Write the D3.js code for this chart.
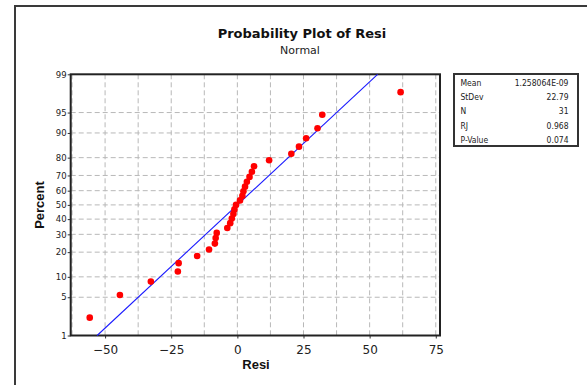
<!DOCTYPE html>
<html>
<head>
<meta charset="utf-8">
<script src="https://cdn.jsdelivr.net/npm/d3@7"></script>
<style>
html,body{margin:0;padding:0;background:#fff;}
svg{display:block;}
</style>
</head>
<body>
<svg id="chart" width="587" height="385"></svg>
<script>
// ---- data ----
const resi = [-55.8, -44.4, -32.7, -22.5, -22.2, -15.2, -10.7, -8.5, -8.2, -7.8,
  -3.8, -2.7, -2.1, -1.5, -1.1, -0.5, 1.0, 1.9, 2.3, 2.9,
  3.6, 4.6, 5.5, 6.3, 12.0, 20.4, 23.3, 26.0, 30.3, 32.1, 61.7];
const percentTicks = [1, 5, 10, 20, 30, 40, 50, 60, 70, 80, 90, 95, 99];
const xTicks = [-50, -25, 0, 25, 50, 75];
const xGrid = [-62.5, -50, -37.5, -25, -12.5, 0, 12.5, 25, 37.5, 50, 62.5, 75];
const statLabels = ["Mean", "StDev", "N", "RJ", "P-Value"];
const statValues = ["1.258064E-09", "22.79", "31", "0.968", "0.074"];
const fitMean = 1.258064e-9;
const fitSd = 22.79;

// inverse normal CDF (Acklam)
function probit(p) {
  const a = [-3.969683028665376e+01, 2.209460984245205e+02, -2.759285104469687e+02, 1.383577518672690e+02, -3.066479806614716e+01, 2.506628277459239e+00];
  const b = [-5.447609879822406e+01, 1.615858368580409e+02, -1.556989798598866e+02, 6.680131188771972e+01, -1.328068155288572e+01];
  const c = [-7.784894002430293e-03, -3.223964580411365e-01, -2.400758277161838e+00, -2.549671010229297e+00, 4.374664141464968e+00, 2.938163982698783e+00];
  const d = [7.784695709041462e-03, 3.224671290700398e-01, 2.445134137142996e+00, 3.754408661907416e+00];
  const pl = 0.02425, ph = 1 - pl;
  let q, r;
  if (p < pl) {
    q = Math.sqrt(-2 * Math.log(p));
    return (((((c[0]*q+c[1])*q+c[2])*q+c[3])*q+c[4])*q+c[5]) / ((((d[0]*q+d[1])*q+d[2])*q+d[3])*q+1);
  } else if (p <= ph) {
    q = p - 0.5; r = q * q;
    return (((((a[0]*r+a[1])*r+a[2])*r+a[3])*r+a[4])*r+a[5])*q / (((((b[0]*r+b[1])*r+b[2])*r+b[3])*r+b[4])*r+1);
  } else {
    q = Math.sqrt(-2 * Math.log(1 - p));
    return -(((((c[0]*q+c[1])*q+c[2])*q+c[3])*q+c[4])*q+c[5]) / ((((d[0]*q+d[1])*q+d[2])*q+d[3])*q+1);
  }
}

const svg = d3.select("#chart");
const L = 70.7, R = 440, T = 74.3, B = 335.5;

// page frame
svg.append("rect").attr("x", 15).attr("y", 6).attr("width", 600).attr("height", 400)
  .attr("fill", "none").attr("stroke", "#3a3a3a").attr("stroke-width", 2);

const x = d3.scaleLinear().domain([-63, 76.6]).range([L, R]);
const y = d3.scaleLinear().domain([probit(0.01), probit(0.99)]).range([B, T]);
const yP = p => y(probit(p / 100));

// grid
const grid = svg.append("g").attr("stroke", "#b8b8b8").attr("stroke-width", 1)
  .attr("stroke-dasharray", "5,3");
grid.selectAll("line.v").data(xGrid).enter().append("line")
  .attr("x1", d => x(d)).attr("x2", d => x(d)).attr("y1", T).attr("y2", B);
grid.selectAll("line.h").data(percentTicks.filter(d => d > 1 && d < 99)).enter().append("line")
  .attr("x1", L).attr("x2", R).attr("y1", d => yP(d)).attr("y2", d => yP(d));

// axes
const xAxis = d3.axisBottom(x).tickValues(xTicks).tickSize(3).tickSizeOuter(0).tickFormat(d3.format("d"));
const gx = svg.append("g").attr("transform", `translate(0,${B})`).call(xAxis);
gx.select(".domain").remove();
gx.selectAll("line").attr("stroke", "#333");
gx.selectAll("text").attr("font-family", "DejaVu Sans, sans-serif").attr("font-size", "12px")
  .attr("fill", "#222").attr("dy", "1.05em");

const yAxis = d3.axisLeft(d3.scaleLinear().domain(y.domain()).range(y.range()))
  .tickValues(percentTicks.map(p => probit(p / 100))).tickSize(3).tickSizeOuter(0)
  .tickFormat((d, i) => percentTicks[i]);
const gy = svg.append("g").attr("transform", `translate(${L},0)`).call(yAxis);
gy.select(".domain").remove();
gy.selectAll("line").attr("stroke", "#333");
gy.selectAll("text").attr("font-family", "DejaVu Sans, sans-serif").attr("font-size", "8.5px")
  .attr("fill", "#222").attr("x", -4);

// plot frame
svg.append("rect").attr("x", L).attr("y", T).attr("width", R - L).attr("height", B - T)
  .attr("fill", "none").attr("stroke", "#222").attr("stroke-width", 2);

// fitted line
const pLo = 0.01, pHi = 0.99;
svg.append("line")
  .attr("x1", x(fitMean + fitSd * probit(pLo))).attr("y1", y(probit(pLo)))
  .attr("x2", x(fitMean + fitSd * probit(pHi))).attr("y2", y(probit(pHi)))
  .attr("stroke", "#1a1aff").attr("stroke-width", 1.1);

// points
const n = resi.length;
const sorted = resi.slice().sort((a, b) => a - b);
svg.append("g").selectAll("circle").data(sorted).enter().append("circle")
  .attr("cx", d => x(d))
  .attr("cy", (d, i) => y(probit((i + 1 - 0.3) / (n + 0.4))))
  .attr("r", 3.3).attr("fill", "#ff0000");

// titles
svg.append("text").attr("x", 302).attr("y", 37.5).attr("text-anchor", "middle")
  .attr("font-family", "DejaVu Sans, sans-serif").attr("font-weight", "bold").attr("font-size", "13px")
  .attr("fill", "#111").text("Probability Plot of Resi");
svg.append("text").attr("x", 300).attr("y", 53.5).attr("text-anchor", "middle")
  .attr("font-family", "DejaVu Sans, sans-serif").attr("font-size", "11px")
  .attr("fill", "#222").text("Normal");

svg.append("text").attr("x", 256).attr("y", 368.7).attr("text-anchor", "middle")
  .attr("font-family", "Liberation Sans, Arial, sans-serif").attr("font-weight", "bold").attr("font-size", "13px")
  .attr("fill", "#111").text("Resi");
svg.append("text").attr("transform", "translate(43.5,205) rotate(-90)").attr("text-anchor", "middle")
  .attr("font-family", "Liberation Sans, Arial, sans-serif").attr("font-weight", "bold").attr("font-size", "13px")
  .attr("fill", "#111").text("Percent");

// stats box
const bx = 454, by = 74, bw = 124, bh = 72;
svg.append("rect").attr("x", bx).attr("y", by).attr("width", bw).attr("height", bh)
  .attr("fill", "#fff").attr("stroke", "#333").attr("stroke-width", 2);
const rowY = i => 86 + i * 14.2;
const sg = svg.append("g").attr("font-family", "DejaVu Sans Condensed, DejaVu Sans, sans-serif")
  .attr("font-size", "8.5px").attr("fill", "#222");
sg.selectAll("text.l").data(statLabels).enter().append("text")
  .attr("x", 460.5).attr("y", (d, i) => rowY(i)).text(d => d);
sg.selectAll("text.v").data(statValues).enter().append("text")
  .attr("x", 568.5).attr("y", (d, i) => rowY(i)).attr("text-anchor", "end").text(d => d);
</script>
</body>
</html>
